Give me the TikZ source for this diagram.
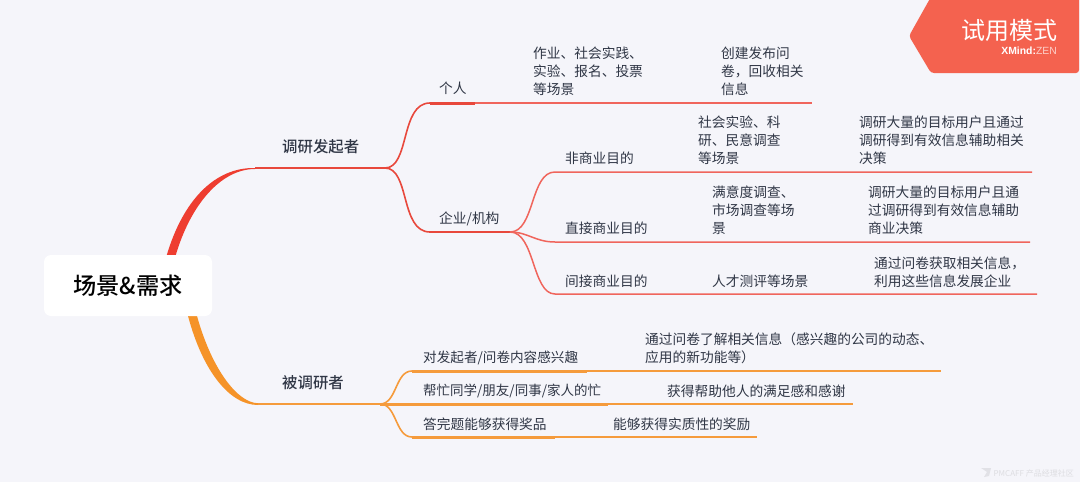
\documentclass[tikz,border=0pt]{standalone}
\usepackage{fontspec}
\setmainfont{Noto Sans CJK SC}
\newfontfamily\medf{Noto Sans CJK SC Medium}
\newfontfamily\latinf{Liberation Sans}
\definecolor{bgc}{HTML}{F5F5FA}
\definecolor{redc}{HTML}{E8483C}
\definecolor{redl}{HTML}{F0655C}
\definecolor{orgc}{HTML}{F59B3C}
\definecolor{orgt}{HTML}{F59328}
\definecolor{redt}{HTML}{EE3D30}
\definecolor{txt}{HTML}{2F3645}
\definecolor{logoc}{HTML}{F4624F}
\tikzset{
 leaf/.style={anchor=west,inner sep=0pt,text=txt,align=left,font=\fontsize{13.72}{18}\selectfont},
 mainb/.style={anchor=west,inner sep=0pt,text=txt,font=\medf\fontsize{15.4}{18}\selectfont},
 rline/.style={draw=redc,line width=1.6pt},
 rthin/.style={draw=redl,line width=1.5pt},
 rthick/.style={draw=redc,line width=3pt},
 oline/.style={draw=orgc,line width=1.6pt},
 othin/.style={draw=orgc,line width=1.5pt},
 othick/.style={draw=orgc,line width=3pt},
}
\begin{document}
\begin{tikzpicture}[x=1pt,y=-1pt]
\path[fill=bgc] (0,0) rectangle (1080,482);
\useasboundingbox (0,0) rectangle (1080,482);
% junctions
\coordinate (r0) at (255,168);
\coordinate (r1) at (385,168);
\coordinate (o0) at (258,404);
\coordinate (o1) at (380,404);
\coordinate (pa) at (430,103); \coordinate (pb) at (475,103); \coordinate (pc) at (812,103);
\coordinate (ea) at (430,232); \coordinate (eb) at (510,232);
\coordinate (n1a) at (555,172); \coordinate (n1b) at (1032,172);
\coordinate (n2a) at (555,242); \coordinate (n2b) at (1030,242);
\coordinate (n3a) at (555,294); \coordinate (n3b) at (1037,294);
\coordinate (oaa) at (412,371); \coordinate (oab) at (587,371); \coordinate (oac) at (941,371);
\coordinate (oba) at (412,404); \coordinate (obb) at (608,404); \coordinate (obc) at (853,404);
\coordinate (oca) at (412,437); \coordinate (ocb) at (555,437); \coordinate (occ) at (757,437);
% tapered main branches
\fill[redt] (166.5,256) .. controls (183,200) and (215,167.2) .. (r0)
  -- (255,169) .. controls (222,169) and (191,203) .. (175.5,256) -- cycle;
\fill[orgt] (188,316) .. controls (203,372) and (230,405) .. (258,405)
  -- (o0) -- (258,403.2) .. controls (238,403) and (212,370) .. (197,316) -- cycle;
\draw[rline] (r0) -- (r1);
\draw[oline] (o0) -- (o1);
% red branches
\draw[rline] (r1) .. controls (410,168) and (400,103) .. (pa);
\draw[rline] (r1) .. controls (410,168) and (400,232) .. (ea);
\draw[rthick] (pa) -- (pb);
\draw[rthin] (pb) -- (pc);
\draw[rline] (ea) -- (eb);
\draw[rthin] (eb) .. controls (535,232) and (530,172) .. (n1a) -- (n1b);
\draw[rthin] (eb) .. controls (528,232) and (535,242) .. (n2a) -- (n2b);
\draw[rthin] (eb) .. controls (535,232) and (532,294) .. (n3a) -- (n3b);
% orange branches
\draw[oline] (o1) .. controls (397,404) and (395,371) .. (oaa);
\draw[oline] (o1) .. controls (397,404) and (395,437) .. (oca);
\draw[othick] (oaa) -- (oab); \draw[othin] (oab) -- (oac);
\draw[othick] (o1) -- (obb); \draw[othin] (obb) -- (obc);
\draw[othick] (oca) -- (ocb); \draw[othin] (ocb) -- (occ);
% root
\node[fill=white,rounded corners=7pt,minimum width=168pt,minimum height=61pt,inner sep=0pt,text=black,font=\medf\fontsize{23.2}{26}\selectfont] (root) at (128,285.5) {场景\&需求};
% level 1
\node[mainb] (a) at (282,146.5) {调研发起者};
\node[mainb] (b) at (282,383) {被调研者};
% level 2
\node[leaf] (p) at (439,88.5) {个人};
\node[leaf] (e) at (439,219) {企业/机构};
\node[leaf] (n1) at (565,158) {非商业目的};
\node[leaf] (n2) at (565,228) {直接商业目的};
\node[leaf] (n3) at (565,281) {间接商业目的};
% leaves
\node[leaf] (l1) at (533,71) {作业、社会实践、\\实验、报名、投票\\等场景};
\node[leaf] (l2) at (721,71) {创建发布问\\卷，回收相关\\信息};
\node[leaf] (l3) at (698,140) {社会实验、科\\研、民意调查\\等场景};
\node[leaf] (l4) at (859,140) {调研大量的目标用户且通过\\调研得到有效信息辅助相关\\决策};
\node[leaf] (l5) at (712,210) {满意度调查、\\市场调查等场\\景};
\node[leaf] (l6) at (868,210) {调研大量的目标用户且通\\过调研得到有效信息辅助\\商业决策};
\node[leaf] (l7) at (712,281) {人才测评等场景};
\node[leaf] (l8) at (874,272) {通过问卷获取相关信息，\\利用这些信息发展企业};
\node[leaf,font=\fontsize{13.6}{18}\selectfont] (q1) at (423,357.5) {对发起者/问卷内容感兴趣};
\node[leaf,font=\fontsize{13.5}{18}\selectfont] (q2) at (423,390.5) {帮忙同学/朋友/同事/家人的忙};
\node[leaf] (q3) at (423,424) {答完题能够获得奖品};
\node[leaf] (r1t) at (645,348.5) {通过问卷了解相关信息（感兴趣的公司的动态、\\应用的新功能等）};
\node[leaf] (r2t) at (667,391) {获得帮助他人的满足感和感谢};
\node[leaf] (r3t) at (613,424) {能够获得实质性的奖励};
% trial badge
\fill[logoc,rounded corners=3pt] (932,-5) -- (1079,-5) -- (1079,73) -- (931,73) -- (909,36) -- cycle;
\node[text=white,inner sep=0pt,font=\fontsize{24}{26}\selectfont] (t) at (1009.5,30) {试用模式};
\node[anchor=east,inner sep=0pt,text=white,font=\latinf\fontsize{10.4}{11}\selectfont] (t2) at (1057,51) {\textbf{XMind:}\textcolor{white!70!logoc}{ZEN}};
% watermark
\fill[black!8!bgc] (981,468) -- (991,468) -- (989,476) -- (984,477) -- (987,472) -- cycle;
\node[anchor=east,inner sep=0pt,text=black!10!bgc,font=\fontsize{8}{10}\selectfont] (w) at (1074,473) {PMCAFF 产品经理社区};
\end{tikzpicture}
\end{document}
